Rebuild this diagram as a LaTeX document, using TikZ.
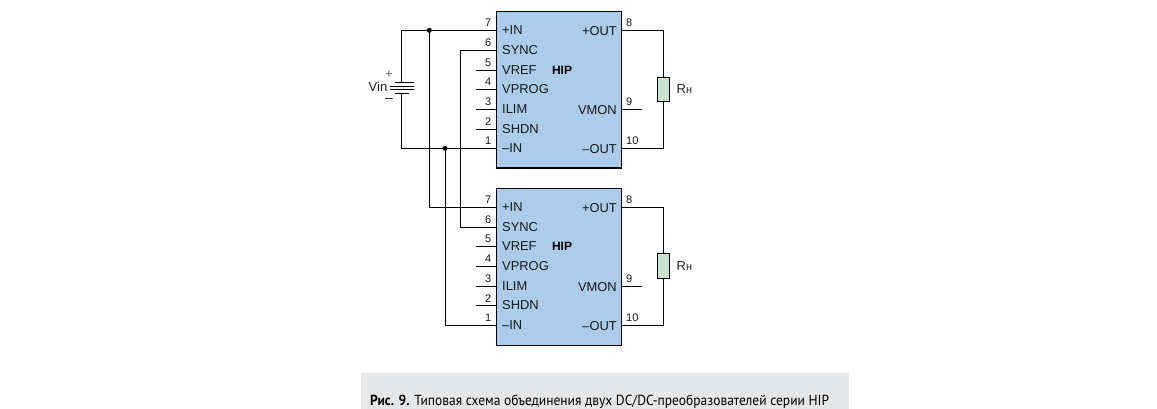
\documentclass[tikz,border=0pt]{standalone}
\usepackage{fontspec}
\usepackage{graphicx}
\setmainfont{Liberation Sans}
\newfontfamily\capfont{PT Sans}
\definecolor{chipblue}{HTML}{ABCDEB}
\definecolor{resgreen}{HTML}{C9E3D0}
\definecolor{capgray}{HTML}{E6E7E8}
\tikzset{
  wire/.style={line width=0.95pt,line cap=rect},
  chip/.style={draw,line width=1.2pt,fill=chipblue,minimum width=125pt,minimum height=156.5pt,inner sep=0pt},
  res/.style={draw,line width=0.95pt,fill=resgreen,minimum width=12.4pt,minimum height=24.4pt,inner sep=0pt},
  lab/.style={inner sep=0pt,font=\fontsize{12.9}{14}\selectfont,text=black!90},
  num/.style={inner sep=0pt,font=\fontsize{11}{12}\selectfont,text=black!90},
  dot/.style={circle,fill=black,inner sep=0pt,minimum size=5pt}
}
\begin{document}
\begin{tikzpicture}[x=1pt,y=-1pt]
\useasboundingbox (0,0) rectangle (1157,409);
\fill[white] (0,0) rectangle (1157,409);
% caption band
\node[fill=capgray,minimum width=488pt,minimum height=36pt,inner sep=0pt,anchor=north west] (band) at (361,373) {};
\node[anchor=base west,inner sep=0pt,text=black] (cap) at (370,405)
  {\scalebox{0.925}[1]{\capfont\fontsize{14.6}{16}\selectfont\textbf{Рис. 9.} Типовая схема объединения двух DC/DC-преобразователей серии HIP}};
% chips
\foreach \u/\t/\ya/\yb/\yc/\yd/\ye/\yf/\yg/\yr in
  {u1/89.8/30.3/50/70/89.3/109.3/129.3/148.3/89.5,
   u2/267/207.3/227.3/246.3/266.3/286/305.7/325.3/266}{
  \node[chip] (\u) at (559.2,\t) {};
  \node[lab,anchor=base west] (\u l7) at (502,\ya+4.2) {+IN};
  \node[lab,anchor=base west] (\u l6) at (502,\yb+4.2) {SYNC};
  \node[lab,anchor=base west] (\u l5) at (502,\yc+4.2) {VREF};
  \node[lab,anchor=base west] (\u l4) at (502,\yd+4.2) {VPROG};
  \node[lab,anchor=base west] (\u l3) at (502,\ye+4.2) {ILIM};
  \node[lab,anchor=base west] (\u l2) at (502,\yf+4.2) {SHDN};
  \node[lab,anchor=base west] (\u l1) at (502,\yg+4.2) {–IN};
  \node[lab,anchor=base east] (\u l8) at (617,\ya+5) {+OUT};
  \node[lab,anchor=base east] (\u l9) at (617,\ye+5) {VMON};
  \node[lab,anchor=base east] (\u l10) at (617,\yg+5) {–OUT};
  \node[inner sep=0pt,anchor=base,font=\fontsize{12}{13}\selectfont\bfseries] (\u name) at (562,\yc+4.4) {HIP};
  \foreach \n/\y in {7/\ya,6/\yb,5/\yc,4/\yd,3/\ye,2/\yf,1/\yg}{
    \coordinate (\u p\n) at (496.7,\y);
    \node[num,anchor=base east] (\u n\n) at (491.5,\y-3.5) {\n};
  }
  \foreach \n/\y in {8/\ya,9/\ye,10/\yg}{
    \coordinate (\u p\n) at (621.7,\y);
    \node[num,anchor=base west] (\u n\n) at (626,\y-3.5) {\n};
  }
  \foreach \n in {5,4,3,2}{
    \coordinate (\u s\n) at (476,0 |- \u p\n);
    \draw[wire] (\u s\n) -- (\u p\n);
  }
  \coordinate (\u s9) at (642,0 |- \u p9);
  \draw[wire] (\u p9) -- (\u s9);
  \node[res] (\u r) at (663.5,\yr) {};
  \node[inner sep=0pt,anchor=base west,font=\fontsize{13}{14}\selectfont,text=black!85] (\u rl) at (676.5,\yr+4)
    {R\fontsize{11}{12}\selectfont н};
  \draw[wire] (\u p8) -| (\u r.north);
  \draw[wire] (\u p10) -| (\u r.south);
}
% battery
\coordinate (bT) at (401.3,82.7);
\coordinate (bB) at (401.3,93.3);
\coordinate (j1) at (429.3,30.3);
\coordinate (j2) at (445,148.3);
\coordinate (sy) at (460.3,140);
\draw[wire] (395,82.7) -- (414,82.7);
\draw[wire] (390,86) -- (414,86);
\draw[wire] (390,89.5) -- (414,89.5);
\draw[wire] (395,93.3) -- (409,93.3);
\node[inner sep=0pt,anchor=base west,font=\fontsize{13}{14}\selectfont,text=black!90] (vin) at (368.5,91.5) {Vin};
\node[inner sep=0pt,font=\fontsize{13}{14}\selectfont,text=black!60] (plus) at (389,75) {+};
\node[inner sep=0pt,font=\fontsize{14}{14}\selectfont,text=black!90] (minus) at (389,100) {–};
% connections
\draw[wire] (u1p7) -| (bT);
\draw[wire] (u1p1) -| (bB);
\draw[wire] (j1) |- (u2p7);
\draw[wire] (j2) |- (u2p1);
\draw[wire] (u1p6) -| (sy) |- (u2p6);
\node[dot] (dj1) at (j1) {};
\node[dot] (dj2) at (j2) {};
\end{tikzpicture}
\end{document}
